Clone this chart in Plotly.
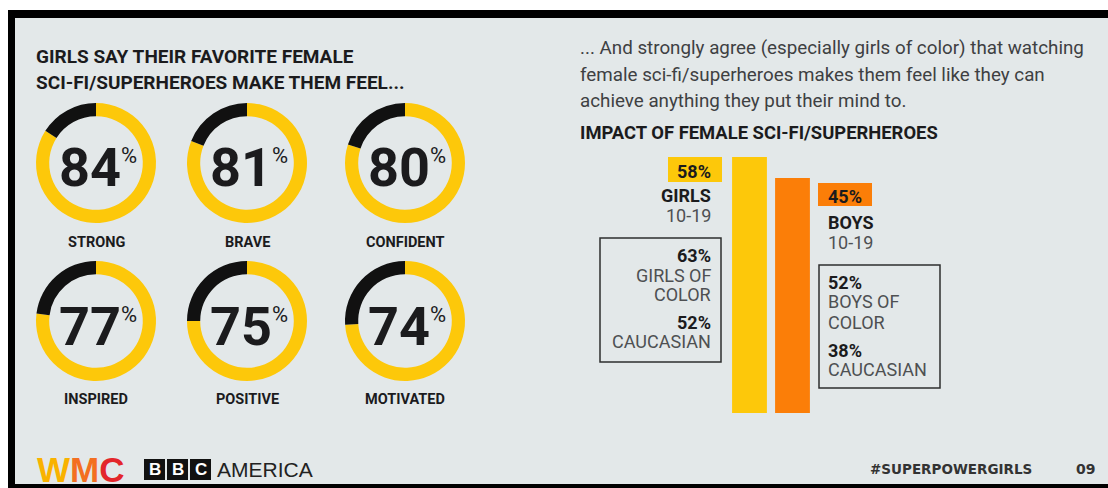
import math
import plotly.graph_objects as go

W, H = 1108, 488

# ---------------- data ----------------
title_lines = ["GIRLS SAY THEIR FAVORITE FEMALE", "SCI-FI/SUPERHEROES MAKE THEM FEEL..."]
feelings = ["STRONG", "BRAVE", "CONFIDENT", "INSPIRED", "POSITIVE", "MOTIVATED"]
feeling_pct = [84, 81, 80, 77, 75, 74]

intro_lines = [
    "... And strongly agree (especially girls of color) that watching",
    "female sci-fi/superheroes makes them feel like they can",
    "achieve anything they put their mind to.",
]
chart_title = "IMPACT OF FEMALE SCI-FI/SUPERHEROES"
groups = ["GIRLS", "BOYS"]
group_ages = ["10-19", "10-19"]
group_pct = [58, 45]
of_color_labels = ["GIRLS OF", "BOYS OF"]
of_color_pct = [63, 52]
caucasian_pct = [52, 38]

hashtag = "#SUPERPOWERGIRLS"
page_no = "09"

# ---------------- style ----------------
FONT = "Roboto, Liberation Sans, Arial, sans-serif"
SANS = "Liberation Sans, Arial, sans-serif"
WIDE = "DejaVu Sans, Verdana, sans-serif"
YELLOW = "#fdc80a"
ORANGE = "#fb7e08"
DARK = "#1b1b1d"
GRAY = "#4e5052"
PANEL = "#e3e8e9"


def X(px):
    return px / W


def Y(py):
    return 1 - py / H


fig = go.Figure()

# ---------------- donuts ----------------
col_cx = [96, 247, 405]
row_cy = [163, 321]
label_y = [242, 399]
R = 60
annotations = []
for i, (name, pct) in enumerate(zip(feelings, feeling_pct)):
    cx = col_cx[i % 3]
    cy = row_cy[i // 3]
    fig.add_trace(go.Pie(
        values=[pct, 100 - pct],
        marker=dict(colors=[YELLOW, "#111111"], line=dict(width=0)),
        hole=0.78, sort=False, direction="clockwise", rotation=0,
        textinfo="none", hoverinfo="skip", showlegend=False,
        domain=dict(x=[X(cx - R), X(cx + R)], y=[Y(cy + R), Y(cy - R)]),
    ))
    annotations.append(dict(
        x=X(cx + 2), y=Y(cy + 5), xanchor="center", yanchor="middle",
        text=f"<b>{pct}</b><sup><span style='font-size:22px'>%</span></sup>",
        font=dict(family=FONT, size=54, color=DARK),
    ))
    annotations.append(dict(
        x=X(cx), y=Y(label_y[i // 3]), xanchor="center", yanchor="middle",
        text=f"<b>{name}</b>", font=dict(family=FONT, size=14.5, color=DARK),
    ))

# ---------------- titles ----------------
for k, line in enumerate(title_lines):
    annotations.append(dict(x=X(34), y=Y(57 + 25 * k), xanchor="left", yanchor="middle",
                            text=f"<b>{line}</b>", font=dict(family=FONT, size=19, color=DARK)))
for k, line in enumerate(intro_lines):
    annotations.append(dict(x=X(578), y=Y(48 + 26.5 * k), xanchor="left", yanchor="middle",
                            text=line, font=dict(family=FONT, size=18.8, color="#3e4042")))
annotations.append(dict(x=X(578), y=Y(133), xanchor="left", yanchor="middle",
                        text=f"<b>{chart_title}</b>", font=dict(family=FONT, size=18.4, color=DARK)))

# ---------------- bars ----------------
fig.add_trace(go.Bar(
    x=groups, y=group_pct, marker=dict(color=[YELLOW, ORANGE], line=dict(width=0)),
    hoverinfo="skip", showlegend=False, xaxis="x", yaxis="y",
))
top_val = max(group_pct)
px_per_decade = (178 - 157) / (math.log10(group_pct[0]) - math.log10(group_pct[1]))
y_low = math.log10(top_val) - (413 - 157) / px_per_decade

# labels beside bars
lab = 18
girl_x, boy_x = 713, 826
girl_lines = [
    (f"<b>{group_pct[0]}%</b>", 171, DARK),
    (f"<b>{groups[0]}</b>", 195, DARK),
    (group_ages[0], 215, GRAY),
    (f"<b>{of_color_pct[0]}%</b>", 255, DARK),
    (of_color_labels[0], 275, GRAY),
    ("COLOR", 294, GRAY),
    (f"<b>{caucasian_pct[0]}%</b>", 322, DARK),
    ("CAUCASIAN", 341, GRAY),
]
boy_lines = [
    (f"<b>{group_pct[1]}%</b>", 196, DARK),
    (f"<b>{groups[1]}</b>", 222, DARK),
    (group_ages[1], 242, GRAY),
    (f"<b>{of_color_pct[1]}%</b>", 282, DARK),
    (of_color_labels[1], 301, GRAY),
    ("COLOR", 322, GRAY),
    (f"<b>{caucasian_pct[1]}%</b>", 350, DARK),
    ("CAUCASIAN", 369, GRAY),
]
for t, yy, c in girl_lines:
    annotations.append(dict(x=X(girl_x), y=Y(yy), xanchor="right", yanchor="middle",
                            text=t, font=dict(family=FONT, size=lab, color=c)))
for t, yy, c in boy_lines:
    annotations.append(dict(x=X(boy_x), y=Y(yy), xanchor="left", yanchor="middle",
                            text=t, font=dict(family=FONT, size=lab, color=c)))

# ---------------- footer ----------------
annotations.append(dict(
    x=X(35), y=Y(469), xanchor="left", yanchor="middle",
    text=("<b><span style='color:#f9b200'>W</span><span style='color:#f36f21'>M</span>"
          "<span style='color:#e3262b'>C</span></b>"),
    font=dict(family=SANS, size=35, color="#f36f21"),
))
for letter, x0 in [("B", 144), ("B", 167), ("C", 190)]:
    annotations.append(dict(x=X(x0 + 10.5), y=Y(469.5), xanchor="center", yanchor="middle",
                            text=f"<b>{letter}</b>", font=dict(family=SANS, size=17, color="white")))
annotations.append(dict(x=X(215), y=Y(469), xanchor="left", yanchor="middle",
                        text="AMERICA", font=dict(family=SANS, size=21, color="#222")))
annotations.append(dict(x=X(868), y=Y(469), xanchor="left", yanchor="middle",
                        text=f"<b>{hashtag}</b>", font=dict(family=WIDE, size=13.5, color="#333")))
annotations.append(dict(x=X(1097), y=Y(469), xanchor="right", yanchor="middle",
                        text=f"<b>{page_no}</b>", font=dict(family=WIDE, size=14, color="#333")))

for a in annotations:
    a.update(xref="paper", yref="paper", showarrow=False)


def rect(x0, y0, x1, y1, fill=None, line=None, lw=0, layer="below"):
    return dict(type="rect", xref="paper", yref="paper", x0=X(x0), x1=X(x1), y0=Y(y1), y1=Y(y0),
                fillcolor=fill, line=dict(color=line or "rgba(0,0,0,0)", width=lw), layer=layer)


shapes = [
    rect(8, 10, 1108, 488, fill="#000000"),
    rect(15, 18, 1108, 484, fill=PANEL),
    rect(668, 157, 722, 182, fill=YELLOW),
    rect(818, 183, 872, 206, fill=ORANGE),
    rect(600, 238, 721, 362, line="#2e2e2e", lw=1.5),
    rect(819, 265, 940, 388, line="#2e2e2e", lw=1.5),
    rect(144, 459, 165, 480, fill="#111"),
    rect(167, 459, 188, 480, fill="#111"),
    rect(190, 459, 211, 480, fill="#111"),
]

fig.update_layout(
    width=W, height=H, margin=dict(l=0, r=0, t=0, b=0),
    paper_bgcolor="white", plot_bgcolor="rgba(0,0,0,0)",
    xaxis=dict(domain=[X(728), X(814)], visible=False, fixedrange=True),
    yaxis=dict(domain=[Y(413), Y(157)], type="log", range=[y_low, math.log10(top_val)],
               visible=False, fixedrange=True),
    bargap=0.19,
    shapes=shapes, annotations=annotations,
)

fig.write_html("out.html")
